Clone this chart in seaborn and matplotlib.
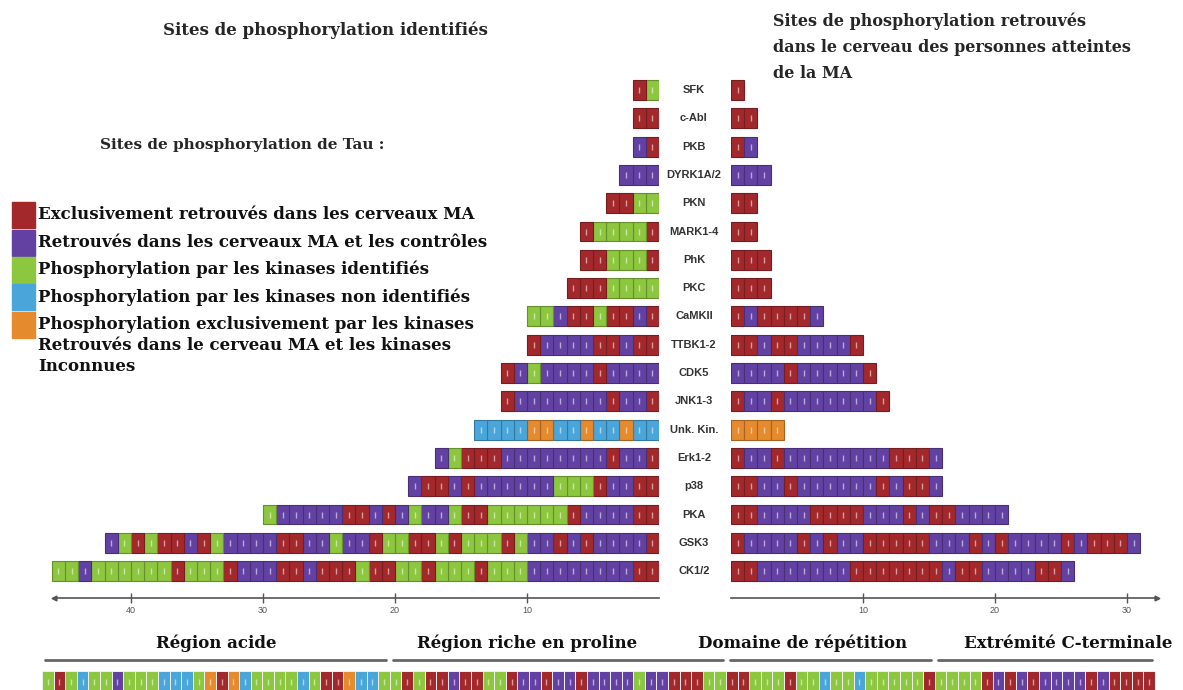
import numpy as np
import matplotlib
matplotlib.use("Agg")
import matplotlib.pyplot as plt
import seaborn as sns
from matplotlib.colors import ListedColormap, to_rgb
from matplotlib.patches import Rectangle

# site colours: R = only AD brain, P = AD + controls, G = known kinase,
# B = unknown kinase, O = AD + unknown kinase
codes = "RPGBO"
palette = ["#a3282c", "#6241a3", "#8dc63f", "#4aa6da", "#e68a2e"]

kinases = ["SFK", "c-Abl", "PKB", "DYRK1A/2", "PKN", "MARK1-4", "PhK", "PKC",
           "CaMKII", "TTBK1-2", "CDK5", "JNK1-3", "Unk. Kin.", "Erk1-2",
           "p38", "PKA", "GSK3", "CK1/2"]

# left panel, read left to right (outer end first)
left_sites = ["RG", "RR", "PR", "PPP", "RRGG", "RGGGGR", "RRGGGR", "RRRGGGG",
              "GGPRRGRRPR", "RPPPPRRPRR", "RPGPPPPRPPPP", "RPPPPPPPRPPR",
              "BBBBOOBBOBBOBB", "PGRRRPPPPPPPPRPPR", "PRRPRPPPPPPGGGRPPRR",
              "GPPPPPRRPRPGPPGRRGGGGGGRPPPPRR",
              "PGRGRRPRGPPPPRRPPGPPRGGRRGRGGGRGPPRPRPPPPR",
              "GGPGGGGGGRGGGRPPPRRPRRRGRRGGRGGGRGGGPPPPPPPPRR"]

# right panel, read left to right (inner end first)
right_sites = ["R", "RR", "RP", "PPP", "RR", "RR", "RRR", "RRR", "RPRRRRP",
               "RRPRRPPPPR", "PPPPRPPPPPR", "RPPRPPPPPPPR", "OOOO",
               "RPPRPPPPPPPPRRRP", "RRPPRPPPPPPRPRRP", "RRPPPPRRRRPPPRPRRPPPP",
               "RPPPPRPRPPRRRRRPPPRPRPPPPRPRRRP", "RRPPPPPPPRRRRRRRPRRPPPPRRP"]

left_ticks = [10, 20, 30, 40]
right_ticks = [10, 20, 30]

regions = ["Région acide", "Région riche en proline", "Domaine de répétition",
           "Extrémité C-terminale"]
region_sites = ["GRGBGGPGGGBBBGOROBGGGGBGRROBBG",
                "GRGRRPRRGGRPPRPPRPPPPGPPRRRGG",
                "RRGGGRGGBGGBGGGGGR",
                "GGGGRPRPRPPPPRPRRRR"]
region_label_x = [15, 41.8, 65.6, 88.5]

legend_labels = ["Exclusivement retrouvés dans les cerveaux MA",
                 "Retrouvés dans les cerveaux MA et les contrôles",
                 "Phosphorylation par les kinases identifiés",
                 "Phosphorylation par les kinases non identifiés",
                 "Phosphorylation exclusivement par les kinases\n"
                 "Retrouvés dans le cerveau MA et les kinases\nInconnues"]

sns.set_theme(style="white")
plt.rcParams['font.family'] = ['DejaVu Serif']

W, H = 1183, 690
fig = plt.figure(figsize=(W / 100, H / 100), dpi=100)


def box(x0, y0, x1, y1):
    # pixel box (top-left origin) -> figure fraction
    return [x0 / W, 1 - y1 / H, (x1 - x0) / W, (y1 - y0) / H]


UNIT, ROW = 13.2, 28.3
ZL, ZR, Y0, TOP, BOT = 659, 731, 90, 70, 598

ax_l = fig.add_axes(box(40, TOP, ZL, BOT))
ax_r = fig.add_axes(box(ZR, TOP, 1160, BOT))
ax_l.set_xlim((ZL - 40) / UNIT, 0)
ax_r.set_xlim(0, (1160 - ZR) / UNIT)
ymax = (BOT - Y0) / ROW


def darker(c, f=0.72):
    r, g, b = to_rgb(c)
    return (r * f, g * f, b * f)


def draw_bars(ax, seqs):
    for i, seq in enumerate(seqs):
        n = len(seq)
        cols = [palette[codes.index(c)] for c in seq]
        ax.barh([i] * n, 1, left=np.arange(n), height=0.7, color=cols,
                edgecolor=[darker(c) for c in cols], linewidth=0.8)
        ax.scatter(np.arange(n) + 0.5, [i] * n, marker='|', s=20,
                   color='white', alpha=0.55, linewidths=1.0)


draw_bars(ax_l, [s[::-1] for s in left_sites])
draw_bars(ax_r, right_sites)

for ax, ticks, end, mk in [(ax_l, left_ticks, 45.8, '<'), (ax_r, right_ticks, 32.3, '>')]:
    ax.set_ylim(ymax, -(Y0 - TOP) / ROW)
    for side in ['top', 'left', 'right']:
        ax.spines[side].set_visible(False)
    ax.spines['bottom'].set_color('#555555')
    ax.spines['bottom'].set_linewidth(1.2)
    ax.spines['bottom'].set_bounds(0, end)
    ax.plot([end], [ymax], marker=mk, ms=3.5, color='#555555', clip_on=False)
    ax.set_xticks(ticks)
    ax.set_yticks([])
    ax.tick_params(axis='x', bottom=True, direction='inout', length=7, width=1,
                   colors='#555555', labelsize=6.5, pad=2)
    for t in ax.get_xticklabels():
        t.set_family('Liberation Sans')
    ax.patch.set_alpha(0)

for i, name in enumerate(kinases):
    ax_l.text(-(694 - ZL) / UNIT, i, name, ha='center', va='center',
              fontsize=8, fontweight='bold', family='Liberation Sans',
              color='#333333', clip_on=False)

# protein strip at the bottom
strip = "".join(region_sites)
ax_s = fig.add_axes(box(42, 671, 1155, 693))
mat = np.array([[codes.index(c) for c in strip]])
sns.heatmap(mat, ax=ax_s, cmap=ListedColormap(palette), vmin=-0.5, vmax=4.5,
            cbar=False, linewidths=0.6, linecolor='#eeeeee')
ax_s.scatter(np.arange(len(strip)) + 0.5, [0.5] * len(strip), marker='|', s=20,
             color='white', alpha=0.55, linewidths=1.0)
ax_s.set_xticks([])
ax_s.set_yticks([])

trans = ax_s.get_xaxis_transform()
start = 0
for name, seg, lx in zip(regions, region_sites, region_label_x):
    stop = start + len(seg)
    ax_s.plot([start + 0.3, stop - 0.3], [1.5, 1.5], transform=trans,
              color='#666666', lw=2, clip_on=False)
    ax_s.text(lx, 2.27, name, transform=trans, ha='center', va='center',
              fontsize=12, fontweight='bold', color='#111111')
    start = stop

# titles
fig.text(163 / W, 1 - 30 / H, "Sites de phosphorylation identifiés",
         fontsize=12, fontweight='bold', va='center', ha='left')
fig.text(773 / W, 1 - 12 / H,
         "Sites de phosphorylation retrouvés\ndans le cerveau des personnes atteintes\nde la MA",
         fontsize=11.5, fontweight='bold', va='top', ha='left', linespacing=1.7)
fig.text(100 / W, 1 - 145 / H, "Sites de phosphorylation de Tau :",
         fontsize=11, fontweight='bold', va='center', ha='left')

# legend
leg_y = [215, 243, 270, 297, 325]
for y, lab, col in zip(leg_y, legend_labels, palette):
    fig.add_artist(Rectangle((12 / W, 1 - (y + 13) / H), 23 / W, 26 / H,
                             transform=fig.transFigure, color=col))
    fig.text(38 / W, 1 - (y - 9) / H, lab, fontsize=12, fontweight='bold',
             va='top', ha='left', linespacing=1.3, color='#111111')

fig.savefig("out.png", dpi=100)
